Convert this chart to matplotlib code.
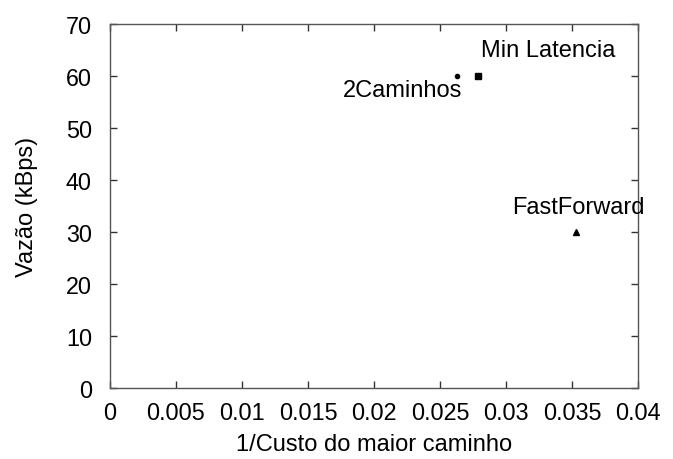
import matplotlib
matplotlib.use("Agg")
import matplotlib.pyplot as plt

plt.rcParams['font.family'] = ['Liberation Sans', 'DejaVu Sans']

names = ["2Caminhos", "Min Latencia", "FastForward"]
xs = [0.02629, 0.02788, 0.0353]
ys = [60, 60, 30]
markers = ["o", "s", "^"]
sizes = [3, 5, 5]

xticks = [0, 0.005, 0.01, 0.015, 0.02, 0.025, 0.03, 0.035, 0.04]
xticklabels = ["0", "0.005", "0.01", "0.015", "0.02", "0.025", "0.03", "0.035", "0.04"]
yticks = [0, 10, 20, 30, 40, 50, 60, 70]

fig = plt.figure(figsize=(6.73, 4.6), dpi=100)
ax = fig.add_axes([0.1634, 0.1543, 0.948 - 0.1634, 0.9446 - 0.1543])

for x, y, m, s in zip(xs, ys, markers, sizes):
    ax.plot([x], [y], marker=m, color='black', markersize=s, linestyle='none')

ax.text(0.02667, 57.4, "2Caminhos", ha='right', va='center', fontsize=17)
ax.text(0.0281, 65.1, "Min Latencia", ha='left', va='center', fontsize=17)
ax.text(0.03045, 34.9, "FastForward", ha='left', va='center', fontsize=17)

ax.set_xlim(0, 0.04)
ax.set_ylim(0, 70)
ax.set_xticks(xticks)
ax.set_xticklabels(xticklabels)
ax.set_yticks(yticks)
ax.tick_params(direction='in', length=5, width=1, color='#333333', labelsize=16.8,
               top=True, right=True, pad=9)
ax.tick_params(axis='y', pad=13)
for sp in ax.spines.values():
    sp.set_color('#555555')
    sp.set_linewidth(1)

ax.set_xlabel("1/Custo do maior caminho", fontsize=17, labelpad=7)
ax.set_ylabel("Vazão (kBps)", fontsize=17, labelpad=20)

fig.savefig("out.png", dpi=100)
